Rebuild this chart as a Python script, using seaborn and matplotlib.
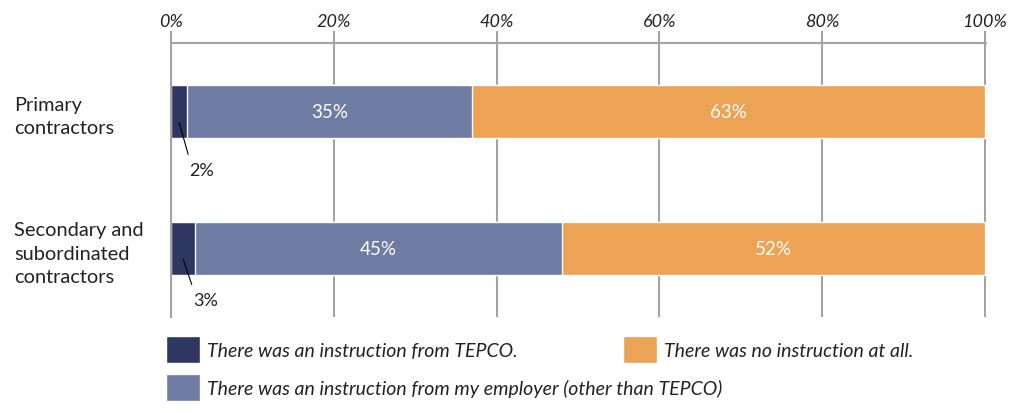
import matplotlib
matplotlib.use('Agg')
import matplotlib.pyplot as plt
from matplotlib.patches import Patch
import numpy as np
import seaborn as sns

# Datos
categorias = ['Primary\ncontractors', 'Secondary and\nsubordinated\ncontractors']
tepco = [2, 3]
empleador = [35, 45]
ninguna = [63, 52]
ticks_x = [0, 20, 40, 60, 80, 100]
leyenda = ['There was an instruction from TEPCO.',
           'There was an instruction from my employer (other than TEPCO)',
           'There was no instruction at all.']

c_tepco = '#2e3762'
c_emp = '#6e7ca4'
c_nada = '#eca356'
gris = '#a3a3a3'

sns.set_style('white')
plt.rcParams['font.family'] = ['Lato', 'DejaVu Sans']

fig = plt.figure(figsize=(10.2, 4.14), dpi=100)
ax = fig.add_axes([171 / 1020, 1 - 318 / 414, 815 / 1020, 274 / 414])

# Barras apiladas: se dibujan los acumulados de mayor a menor
acum1 = np.array(tepco)
acum2 = acum1 + np.array(empleador)
acum3 = acum2 + np.array(ninguna)
for vals, col in [(acum3, c_nada), (acum2, c_emp), (acum1, c_tepco)]:
    sns.barplot(x=list(vals), y=categorias, orient='h', color=col,
                saturation=1, width=0.394, ax=ax)

# Etiquetas dentro de las barras
desplaz = [-34, -29]
for i in range(len(categorias)):
    ax.text(acum1[i] + empleador[i] / 2, i, f'{empleador[i]}%', color='white',
            ha='center', va='center', fontsize=13.5)
    ax.text(acum2[i] + ninguna[i] / 2, i, f'{ninguna[i]}%', color='white',
            ha='center', va='center', fontsize=13.5)
    ax.annotate(f'{tepco[i]}%', xy=(tepco[i] / 2, i + 0.08),
                xytext=(16, desplaz[i]), textcoords='offset points',
                ha='center', va='center', fontsize=13, color='#222222',
                arrowprops=dict(arrowstyle='-', color='black', lw=0.8,
                                shrinkA=3, shrinkB=0, relpos=(0.05, 1.0)))

# Ejes
ax.set_xlim(0, 100.15)
ax.set_ylim(1.5, -0.5)
ax.xaxis.tick_top()
ax.set_xticks(ticks_x)
ax.set_xticklabels([f'{t}%' for t in ticks_x], fontstyle='italic',
                   fontsize=13, color='#222222')
ax.tick_params(axis='x', which='major', length=8.6, width=1.5, color=gris,
               pad=1.5, direction='out')
ax.set_xlabel('')
ax.set_ylabel('')

ax.set_yticks([0, 1])
ax.set_yticklabels(categorias, ha='left', fontsize=14.4, linespacing=1.45,
                   color='#222222')
ax.set_yticks([-0.5, 0.5, 1.5], minor=True)
ax.tick_params(axis='y', which='major', length=0, pad=113)
ax.tick_params(axis='y', which='minor', length=9.4, width=1.5, color=gris,
               direction='out')

ax.grid(axis='x', color=gris, lw=1.5)
ax.grid(axis='y', visible=False)
ax.set_axisbelow(True)
for lado in ['bottom', 'right']:
    ax.spines[lado].set_visible(False)
for lado in ['top', 'left']:
    ax.spines[lado].set_color(gris)
    ax.spines[lado].set_linewidth(1.5)

# Leyenda
fs = 14
fs_px = fs * 100 / 72
h1 = Patch(facecolor=c_tepco, label=leyenda[0])
h2 = Patch(facecolor=c_emp, label=leyenda[1])
h3 = Patch(facecolor=c_nada, label=leyenda[2])
opts = dict(loc='upper left', frameon=False, borderpad=0, borderaxespad=0,
            handlelength=34 / fs_px, handleheight=34 / fs_px,
            handletextpad=7 / fs_px, labelspacing=11 / fs_px,
            prop={'style': 'italic', 'size': fs})
leg1 = fig.legend(handles=[h1, h2], bbox_to_anchor=(166 / 1020, 1 - 337 / 414), **opts)
leg2 = fig.legend(handles=[h3], bbox_to_anchor=(623 / 1020, 1 - 337 / 414), **opts)
for leg in (leg1, leg2):
    for t in leg.get_texts():
        t.set_color('#222222')

fig.savefig('out.png', dpi=100)
